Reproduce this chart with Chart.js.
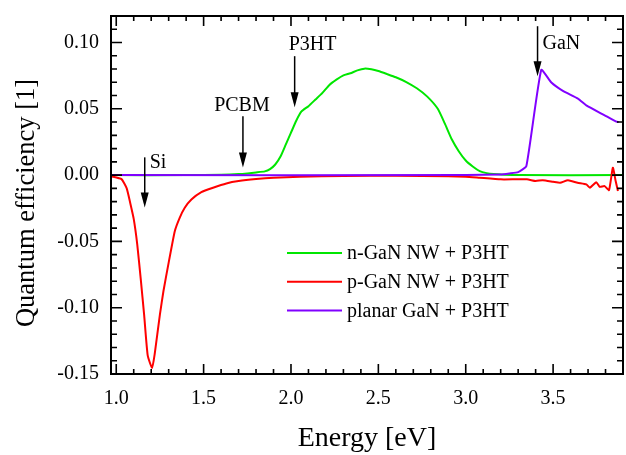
<!DOCTYPE html>
<html>
<head>
<meta charset="utf-8">
<script src="https://cdn.jsdelivr.net/npm/chart.js@4.4.1/dist/chart.umd.min.js"></script>
<style>
  body { margin: 0; background: #fff; }
  #wrap { width: 626px; height: 455px; position: relative; }
</style>
</head>
<body>
<div id="wrap"><canvas id="myChart"></canvas></div>
<script>
// n-GaN NW + P3HT
var nGaNEnergy = [0.97, 1.4, 1.6, 1.7, 1.75, 1.8, 1.85, 1.88, 1.91, 1.94, 1.97, 2.0, 2.03, 2.06, 2.1, 2.14, 2.18, 2.22, 2.26, 2.3, 2.34, 2.38, 2.42, 2.46, 2.5, 2.55, 2.6, 2.66, 2.72, 2.78, 2.84, 2.88, 2.92, 2.96, 3.0, 3.04, 3.08, 3.12, 3.16, 3.22, 3.3, 3.9]
var nGaNQE = [0, 0, 0.0003, 0.0008, 0.0013, 0.002, 0.0028, 0.0045, 0.008, 0.014, 0.023, 0.032, 0.041, 0.048, 0.052, 0.057, 0.062, 0.068, 0.072, 0.0752, 0.0768, 0.079, 0.0803, 0.0798, 0.0785, 0.0762, 0.0738, 0.0702, 0.0655, 0.0592, 0.05, 0.039, 0.027, 0.018, 0.011, 0.0065, 0.003, 0.0015, 0.0008, 0.0003, 0, 0]

// p-GaN NW + P3HT
var pGaNEnergy = [0.97, 1.03, 1.06, 1.08, 1.1, 1.12, 1.14, 1.16, 1.18, 1.205, 1.22, 1.25, 1.27, 1.3, 1.335, 1.363, 1.392, 1.43, 1.487, 1.554, 1.63, 1.7, 1.8, 1.9, 2.05, 2.3, 2.6, 2.9, 3.0, 3.08, 3.2, 3.35, 3.4, 3.44, 3.5, 3.54, 3.585, 3.64, 3.69, 3.71, 3.747, 3.766, 3.795, 3.82, 3.842, 3.858, 3.871]
var pGaNQE = [-0.0008, -0.003, -0.01, -0.021, -0.033, -0.052, -0.078, -0.106, -0.136, -0.1455, -0.135, -0.105, -0.0876, -0.066, -0.0423, -0.0322, -0.0246, -0.0184, -0.0128, -0.0095, -0.0063, -0.0045, -0.003, -0.002, -0.0012, -0.0006, -0.0005, -0.0008, -0.0012, -0.002, -0.0032, -0.0032, -0.0045, -0.0038, -0.005, -0.0058, -0.0038, -0.0058, -0.007, -0.0095, -0.0053, -0.0088, -0.0083, -0.0113, 0.0056, -0.0045, -0.012]

// planar GaN + P3HT
var planarEnergy = [0.97, 3.0, 3.2, 3.25, 3.3, 3.347, 3.432, 3.49, 3.556, 3.642, 3.69, 3.795, 3.862, 3.875]
var planarQE = [0, 0, 0.0005, 0.0013, 0.0023, 0.0068, 0.0793, 0.0698, 0.0635, 0.0577, 0.0526, 0.0451, 0.0403, 0.0400]

var seriesLabels = ['n-GaN NW + P3HT', 'p-GaN NW + P3HT', 'planar GaN + P3HT']
var seriesColors = ['#00e600', '#ff0000', '#8000ff']

// arrow annotations: label, energy, arrow top, arrow tip
var markLabels = ['Si', 'PCBM', 'P3HT', 'GaN']
var markEnergy = [1.163, 1.725, 2.021, 3.411]
var markTop = [0.0134, 0.0443, 0.0897, 0.1123]
var markTip = [-0.0244, 0.0058, 0.0511, 0.0745]

var yTitle = 'Quantum efficiency [1]'
var FONT = "'Liberation Serif', 'Times New Roman', serif"

function pairs(xs, ys){
  return xs.map((x, i) => ({x: x, y: ys[i]}))
}

//helpers
var framePlugin = {
  id: 'frame',
  afterDatasetsDraw(chart){
    let ctx = chart.ctx
    let a = chart.chartArea
    let xs = chart.scales.x
    let ys = chart.scales.y
    ctx.save()
    ctx.strokeStyle = '#000'

    // ticks inside, on all four sides
    ctx.lineWidth = 1.6
    xs.ticks.forEach(t => {
      let px = xs.getPixelForValue(t.value)
      let len = t.label ? 10 : 5
      ctx.beginPath()
      ctx.moveTo(px, a.bottom); ctx.lineTo(px, a.bottom - len)
      ctx.moveTo(px, a.top); ctx.lineTo(px, a.top + len)
      ctx.stroke()
    })
    ys.ticks.forEach(t => {
      let py = ys.getPixelForValue(t.value)
      let len = t.label ? 11 : 6
      ctx.beginPath()
      ctx.moveTo(a.left, py); ctx.lineTo(a.left + len, py)
      ctx.moveTo(a.right, py); ctx.lineTo(a.right - len, py)
      ctx.stroke()
    })

    ctx.lineWidth = 2
    ctx.strokeRect(a.left, a.top, a.right - a.left, a.bottom - a.top)

    // y title (sits a bit below the centre of the axis)
    ctx.fillStyle = '#000'
    ctx.save()
    ctx.translate(27, 203)
    ctx.rotate(-Math.PI / 2)
    ctx.font = '26.5px ' + FONT
    ctx.textAlign = 'center'
    ctx.textBaseline = 'middle'
    ctx.fillText(yTitle, 0, 0)
    ctx.restore()

    // arrows
    ctx.font = '20px ' + FONT
    ctx.textBaseline = 'middle'
    markLabels.forEach((lab, i) => {
      let px = xs.getPixelForValue(markEnergy[i])
      let top = ys.getPixelForValue(markTop[i])
      let tip = ys.getPixelForValue(markTip[i])
      ctx.lineWidth = 1.5
      ctx.beginPath()
      ctx.moveTo(px, top); ctx.lineTo(px, tip - 12)
      ctx.stroke()
      ctx.beginPath()
      ctx.moveTo(px - 4, tip - 15)
      ctx.lineTo(px + 4, tip - 15)
      ctx.lineTo(px, tip)
      ctx.closePath()
      ctx.fill()
      if(lab === 'Si'){
        ctx.textAlign = 'left'; ctx.fillText(lab, px + 5, top + 5)
      } else if(lab === 'PCBM'){
        ctx.textAlign = 'center'; ctx.fillText(lab, px - 1, top - 11)
      } else if(lab === 'P3HT'){
        ctx.textAlign = 'left'; ctx.fillText(lab, px - 6, top - 11)
      } else {
        ctx.textAlign = 'left'; ctx.fillText(lab, px + 5, top + 18)
      }
    })

    // legend
    ctx.textAlign = 'left'
    chart.data.datasets.forEach((ds, i) => {
      let y = 253 + i * 28.7
      ctx.strokeStyle = ds.borderColor
      ctx.lineWidth = 2
      ctx.beginPath()
      ctx.moveTo(287, y); ctx.lineTo(342, y)
      ctx.stroke()
      ctx.fillStyle = '#000'
      ctx.fillText(ds.label, 347, y + 1)
    })
    ctx.restore()
  }
}

var ctx = document.getElementById('myChart').getContext('2d')
var chart = new Chart(ctx, {
  type: 'line',
  data: {
    datasets: [
      { label: seriesLabels[0], data: pairs(nGaNEnergy, nGaNQE), borderColor: seriesColors[0], order: 2 },
      { label: seriesLabels[1], data: pairs(pGaNEnergy, pGaNQE), borderColor: seriesColors[1], order: 1 },
      { label: seriesLabels[2], data: pairs(planarEnergy, planarQE), borderColor: seriesColors[2], order: 0 }
    ]
  },
  options: {
    responsive: true,
    maintainAspectRatio: false,
    animation: false,
    layout: { padding: { top: 16, right: 3, left: 0, bottom: 0 } },
    elements: {
      point: { radius: 0 },
      line: { borderWidth: 2, tension: 0.15, fill: false }
    },
    plugins: { legend: { display: false }, tooltip: { enabled: false } },
    scales: {
      x: {
        type: 'linear',
        min: 0.97, max: 3.9,
        grid: { display: false, drawTicks: false },
        border: { display: false },
        afterBuildTicks: s => {
          let t = []
          for(let i = 10; i <= 38; i++) t.push({value: i / 10})
          s.ticks = t
        },
        afterFit: s => { s.height = 81; s.paddingLeft = 0; s.paddingRight = 0 },
        ticks: {
          autoSkip: false, maxRotation: 0, padding: 13,
          color: '#000',
          font: { family: FONT, size: 20 },
          callback: v => (Math.round(v * 10) % 5 === 0) ? v.toFixed(1) : ''
        },
        title: {
          display: true, text: 'Energy [eV]', color: '#000',
          font: { family: FONT, size: 28 },
          padding: { top: 0, bottom: 0 }
        }
      },
      y: {
        min: -0.15, max: 0.12,
        grid: { display: false, drawTicks: false },
        border: { display: false },
        afterBuildTicks: s => {
          let t = []
          for(let i = -15; i <= 12; i++) t.push({value: i / 100})
          s.ticks = t
        },
        afterFit: s => { s.width = 111; s.paddingTop = 0; s.paddingBottom = 0 },
        ticks: {
          autoSkip: false, padding: 12,
          color: '#000',
          font: { family: FONT, size: 20 },
          callback: v => (Math.round(v * 100) % 5 === 0) ? v.toFixed(2) : ''
        },
        title: { display: false }
      }
    }
  },
  plugins: [framePlugin]
})
</script>
</body>
</html>
